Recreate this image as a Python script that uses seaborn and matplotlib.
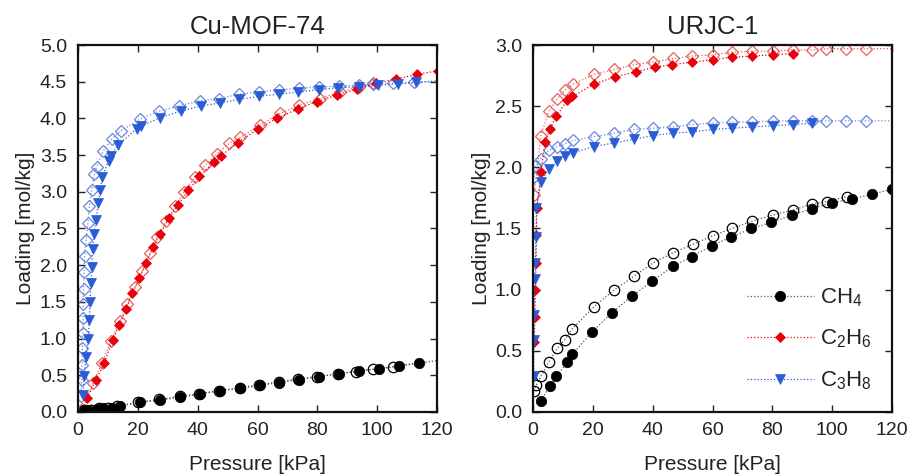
import matplotlib
matplotlib.use("Agg")
import matplotlib.pyplot as plt
import seaborn as sns

# ---- Cu-MOF-74 ----
cu_ch4_p = [2.0, 3.4, 6.2, 8.5, 11.3, 14.0, 20.7, 27.4, 34.1, 40.8, 47.5, 54.2, 60.8,
            67.3, 74.0, 80.6, 87.1, 93.8, 100.4, 107.1, 113.8]
cu_ch4_l = [0.02, 0.03, 0.04, 0.05, 0.06, 0.08, 0.13, 0.16, 0.20, 0.24, 0.29, 0.32, 0.36,
            0.40, 0.44, 0.48, 0.52, 0.56, 0.59, 0.63, 0.67]
cu_ch4_open_p = [1.0, 2.5, 4.5, 7.0, 10.0, 13.0, 20.0, 27.0, 34.0, 40.5, 47.0, 54.0, 60.5,
                 67.0, 73.5, 80.0, 87.0, 93.0, 98.6, 105.1, 125.0]
cu_ch4_open_l = [0.01, 0.02, 0.03, 0.05, 0.06, 0.08, 0.13, 0.17, 0.21, 0.25, 0.29, 0.33, 0.37,
                 0.41, 0.45, 0.48, 0.52, 0.55, 0.58, 0.61, 0.73]

cu_c2h6_p = [3.1, 6.0, 8.7, 11.6, 13.8, 16.1, 18.2, 20.5, 22.7, 25.2, 27.4, 30.5, 33.3,
             36.9, 40.5, 45.5, 47.8, 53.3, 60.0, 66.4, 73.5, 79.8, 86.5, 93.2, 99.7,
             106.4, 113.3, 120.3]
cu_c2h6_l = [0.19, 0.44, 0.66, 0.98, 1.19, 1.40, 1.62, 1.82, 2.03, 2.25, 2.43, 2.64, 2.82,
             3.02, 3.21, 3.41, 3.49, 3.67, 3.85, 4.00, 4.13, 4.23, 4.32, 4.40, 4.48,
             4.54, 4.60, 4.65]
cu_c2h6_open_p = [1.5, 5.0, 8.0, 11.0, 14.0, 16.5, 19.0, 21.5, 24.0, 26.5, 29.5, 32.5, 35.5,
                  39.0, 42.5, 46.5, 50.5, 54.2, 60.9, 67.6, 74.0, 80.7, 87.5, 94.0, 98.6]
cu_c2h6_open_l = [0.04, 0.40, 0.66, 0.97, 1.24, 1.47, 1.70, 1.92, 2.16, 2.38, 2.60, 2.80, 3.00,
                  3.20, 3.36, 3.52, 3.66, 3.74, 3.91, 4.07, 4.18, 4.27, 4.36, 4.43, 4.48]

cu_c3h8_p = [1.6, 2.0, 2.7, 3.4, 3.8, 4.0, 4.35, 4.6, 4.9, 5.35, 6.0, 6.8, 7.4, 8.1, 10.2,
             10.9, 13.5, 19.6, 21.0, 27.4, 34.4, 41.1, 47.5, 53.8, 60.5, 67.0, 73.5, 80.4,
             87.0, 93.8, 100.1, 106.8, 112.9, 126.0]
cu_c3h8_l = [0.23, 0.49, 0.75, 0.99, 1.25, 1.50, 1.76, 1.98, 2.22, 2.43, 2.62, 2.85, 3.02,
             3.20, 3.42, 3.49, 3.64, 3.86, 3.89, 4.01, 4.10, 4.17, 4.21, 4.26, 4.30, 4.33,
             4.36, 4.39, 4.42, 4.43, 4.45, 4.47, 4.49, 4.53]
cu_c3h8_open_p = [1.0, 1.2, 1.3, 1.5, 1.6, 1.7, 1.8, 1.9, 2.0, 2.2, 2.7, 3.3, 3.8, 4.6, 5.5,
                  6.2, 8.5, 11.3, 14.3, 20.7, 27.2, 33.9, 40.6, 47.2, 53.8, 60.5, 67.2,
                  73.9, 80.6, 87.3, 93.8, 98.6, 105.1, 112.1, 126.0]
cu_c3h8_open_l = [0.21, 0.44, 0.64, 0.87, 1.07, 1.28, 1.47, 1.67, 1.91, 2.13, 2.34, 2.57,
                  2.81, 3.02, 3.24, 3.34, 3.56, 3.72, 3.83, 3.99, 4.10, 4.17, 4.24, 4.27,
                  4.33, 4.36, 4.39, 4.41, 4.43, 4.44, 4.45, 4.47, 4.48, 4.49, 4.51]

# ---- URJC-1 ----
ur_ch4_p = [2.6, 5.6, 7.8, 11.5, 13.1, 19.6, 26.3, 33.2, 39.9, 46.7, 53.1, 59.8, 66.3,
            73.0, 79.7, 86.6, 93.1, 99.8, 106.5, 113.2, 119.9]
ur_ch4_l = [0.09, 0.21, 0.29, 0.41, 0.47, 0.65, 0.81, 0.95, 1.07, 1.19, 1.27, 1.36, 1.43,
            1.50, 1.55, 1.61, 1.66, 1.71, 1.74, 1.78, 1.82]
ur_ch4_open_p = [0.3, 1.1, 2.6, 5.3, 8.1, 10.6, 13.1, 20.4, 27.2, 33.8, 40.2, 46.7, 53.4,
                 60.0, 66.5, 73.2, 80.1, 86.8, 93.3, 98.1, 104.8]
ur_ch4_open_l = [0.17, 0.22, 0.29, 0.41, 0.52, 0.59, 0.68, 0.86, 1.00, 1.11, 1.22, 1.30, 1.37,
                 1.44, 1.50, 1.56, 1.61, 1.65, 1.70, 1.72, 1.76]

ur_c2h6_p = [0.4, 0.6, 0.8, 1.0, 1.1, 1.3, 2.6, 4.1, 5.6, 7.8, 11.5, 13.1, 20.4, 27.4, 34.3,
             40.8, 46.4, 53.3, 60.0, 66.5, 73.2, 80.1, 86.8]
ur_c2h6_l = [0.57, 0.78, 1.00, 1.22, 1.45, 1.67, 1.96, 2.21, 2.31, 2.42, 2.55, 2.58, 2.68,
             2.74, 2.78, 2.82, 2.84, 2.86, 2.88, 2.90, 2.91, 2.92, 2.93]
ur_c2h6_open_p = [0.3, 2.6, 5.3, 8.1, 10.6, 13.4, 20.4, 27.2, 33.9, 40.2, 46.9, 53.3, 60.0,
                  66.5, 73.2, 80.1, 86.8, 93.3, 98.0, 104.7, 111.4, 126.0]
ur_c2h6_open_l = [1.77, 2.26, 2.46, 2.56, 2.63, 2.68, 2.76, 2.80, 2.84, 2.86, 2.89, 2.91, 2.92,
                  2.94, 2.95, 2.95, 2.96, 2.96, 2.97, 2.97, 2.97, 2.97]

ur_c3h8_p = [0.2, 0.3, 0.4, 0.6, 0.8, 1.0, 1.1, 2.6, 5.3, 8.1, 10.6, 13.4, 20.4, 27.2, 33.9,
             40.2, 46.9, 53.3, 60.0, 66.5, 73.2, 80.1, 86.8, 93.3]
ur_c3h8_l = [0.29, 0.59, 0.79, 1.09, 1.22, 1.43, 1.67, 1.88, 1.99, 2.05, 2.09, 2.12, 2.17,
             2.20, 2.23, 2.26, 2.28, 2.29, 2.31, 2.32, 2.33, 2.34, 2.35, 2.36]
ur_c3h8_open_p = [0.3, 0.8, 2.6, 5.3, 8.1, 10.6, 13.4, 20.4, 27.2, 33.9, 40.2, 46.9, 53.3,
                  60.0, 66.5, 73.2, 80.1, 86.8, 93.3, 98.0, 104.7, 111.4, 126.0]
ur_c3h8_open_l = [1.92, 2.01, 2.07, 2.14, 2.17, 2.19, 2.22, 2.25, 2.28, 2.31, 2.32, 2.33, 2.35,
                  2.36, 2.37, 2.37, 2.38, 2.38, 2.38, 2.38, 2.38, 2.38, 2.38]

gas_labels = ["CH$_4$", "C$_2$H$_6$", "C$_3$H$_8$"]
titles = ["Cu-MOF-74", "URJC-1"]

sns.set_theme(style="ticks")
plt.rcParams["font.family"] = ["Liberation Sans", "DejaVu Sans"]
plt.rcParams["mathtext.fontset"] = "custom"
plt.rcParams["mathtext.rm"] = "Liberation Sans"
plt.rcParams["mathtext.it"] = "Liberation Sans"

BLACK = "#000000"
RED = "#e8000b"
BLUE = "#2a5cd8"
RED_OPEN = "#e6605a"
BLUE_OPEN = "#6a86dc"
GREY = "#555555"
TEXT = "#222222"


def draw_series(ax, p, l, color, marker, size, filled, label=None, lcolor=None):
    sns.lineplot(x=p, y=l, ax=ax, sort=False, estimator=None,
                 color=lcolor or color, linestyle=":", linewidth=0.9,
                 marker=marker, markersize=size,
                 markerfacecolor=color if filled else "none",
                 markeredgecolor=color, markeredgewidth=0.9 if not filled else 0.5,
                 label=label, legend=False)


fig = plt.figure(figsize=(9.07, 4.74), dpi=100)
ax1 = fig.add_axes([0.086, 0.131, 0.396, 0.774])
ax2 = fig.add_axes([0.5877, 0.131, 0.3958, 0.774])

panels = [
    (ax1, [(cu_ch4_open_p, cu_ch4_open_l), (cu_c2h6_open_p, cu_c2h6_open_l), (cu_c3h8_open_p, cu_c3h8_open_l)],
     [(cu_ch4_p, cu_ch4_l), (cu_c2h6_p, cu_c2h6_l), (cu_c3h8_p, cu_c3h8_l)], 5.0),
    (ax2, [(ur_ch4_open_p, ur_ch4_open_l), (ur_c2h6_open_p, ur_c2h6_open_l), (ur_c3h8_open_p, ur_c3h8_open_l)],
     [(ur_ch4_p, ur_ch4_l), (ur_c2h6_p, ur_c2h6_l), (ur_c3h8_p, ur_c3h8_l)], 3.0),
]

for (ax, opens, filleds, ymax), title in zip(panels, titles):
    # open symbols
    draw_series(ax, *opens[0], BLACK, "o", 7.5, False, lcolor=GREY)
    draw_series(ax, *opens[1], RED_OPEN, "D", 6.0, False)
    draw_series(ax, *opens[2], BLUE_OPEN, "D", 6.0, False)
    # filled symbols
    draw_series(ax, *filleds[0], BLACK, "o", 7.5, True, label=gas_labels[0], lcolor=GREY)
    draw_series(ax, *filleds[1], RED, "D", 5.5, True, label=gas_labels[1])
    draw_series(ax, *filleds[2], BLUE, "v", 6.5, True, label=gas_labels[2])

    ax.set_xlim(0, 120)
    ax.set_ylim(0, ymax)
    ax.set_xticks(range(0, 121, 20))
    ax.set_yticks([i * 0.5 for i in range(int(ymax / 0.5) + 1)])
    ax.yaxis.set_major_formatter(matplotlib.ticker.FormatStrFormatter("%.1f"))
    ax.tick_params(direction="in", top=True, right=True, length=5, width=1.0,
                   labelsize=14, colors=TEXT)
    ax.tick_params(axis="x", pad=7)
    ax.tick_params(axis="y", pad=8)
    for sp in ax.spines.values():
        sp.set_linewidth(1.6)
        sp.set_color("#111111")
        sp.set_visible(True)
    ax.set_title(title, fontsize=18.5, pad=8, color=TEXT)
    ax.set_xlabel("Pressure [kPa]", fontsize=15, labelpad=12, color=TEXT)
    ax.set_ylabel("Loading [mol/kg]", fontsize=15, labelpad=3, color=TEXT)

leg = ax2.legend(loc="lower right", bbox_to_anchor=(1.0, 0.0), frameon=False,
                 fontsize=16, handlelength=3.0, handletextpad=0.3, labelspacing=0.85)
for t in leg.get_texts():
    t.set_color(TEXT)

fig.savefig("out.png", dpi=100)
